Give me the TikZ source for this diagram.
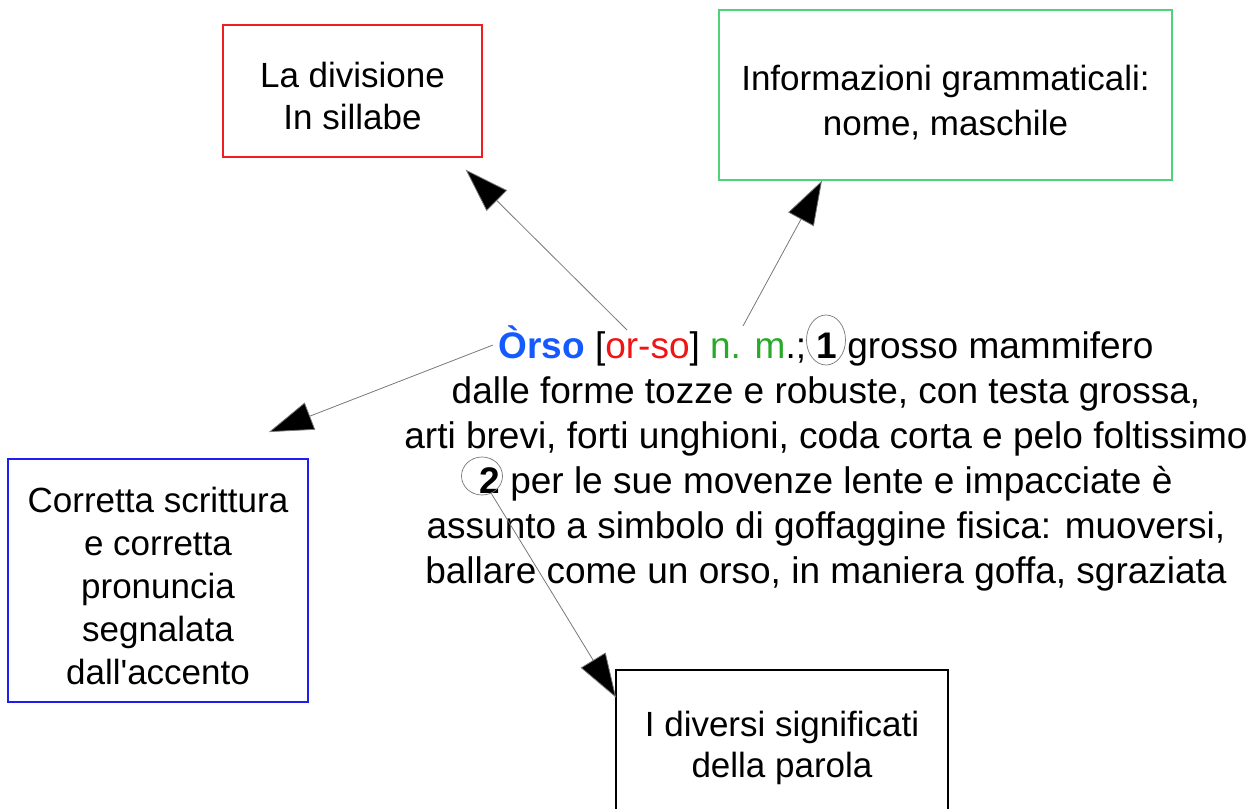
\documentclass[tikz,border=0pt]{standalone}
\usepackage{fontspec}
\setmainfont{Liberation Sans}
\usetikzlibrary{arrows.meta,shapes.geometric,calc}
\definecolor{boxred}{RGB}{240,30,30}
\definecolor{boxgreen}{RGB}{80,210,120}
\definecolor{boxblue}{RGB}{30,30,240}
\definecolor{orsoblue}{RGB}{20,90,255}
\definecolor{orsored}{RGB}{240,20,20}
\definecolor{orsogreen}{RGB}{40,170,40}
\definecolor{linegray}{RGB}{120,120,120}
\tikzset{
  infobox/.style={draw, line width=1.3pt, inner sep=0pt},
  boxtext/.style={align=center, inner sep=0pt, font=\fontsize{35}{#1}\selectfont},
  boxtext/.default=43,
  maintext/.style={align=center, inner sep=0pt, font=\fontsize{37}{45}\selectfont},
  numring/.style={draw=linegray, line width=0.7pt, ellipse, inner sep=0pt},
  pointer/.style={draw=linegray, line width=0.8pt, -{Triangle[length=44pt,width=29pt,fill=black]}},
}
\begin{document}
\begin{tikzpicture}[x=1pt,y=-1pt]
\useasboundingbox (0,0) rectangle (1260,808);
% boxes
\node[infobox, draw=boxred, minimum width=259pt, minimum height=132pt] (sill) at (352.5,91) {};
\node[boxtext=42] (sillText) at ($(sill.center)+(0,5)$) {La divisione\\In sillabe};
\node[infobox, draw=boxgreen, minimum width=453pt, minimum height=170pt] (gram) at (945.5,95) {};
\node[boxtext=45] (gramText) at ($(gram.center)+(0,8)$) {Informazioni grammaticali:\\nome, maschile};
\node[infobox, draw=boxblue, minimum width=300pt, minimum height=243pt] (accent) at (158,580.5) {};
\node[boxtext=43] (accentText) at ($(accent.center)+(0,5)$)
  {Corretta scrittura\\e corretta\\pronuncia\\segnalata\\dall\textquotesingle accento};
\node[infobox, draw=black, minimum width=332pt, minimum height=160pt] (sign) at (782,750) {};
\node[boxtext=41] (signText) at ($(sign.center)+(0,-2)$) {I diversi significati\\della parola};
% main entry text
\node[maintext, anchor=base] (entry) at (826,583)
  {{\bfseries\color{orsoblue}Òrso} [{\color{orsored}or-so}] {\color{orsogreen}n. m}.; {\bfseries 1} grosso mammifero\\
   dalle forme tozze e robuste, con testa grossa,\\
   arti brevi, forti unghioni, coda corta e pelo foltissimo\\
   {\bfseries 2} per le sue movenze lente e impacciate è\\
   assunto a simbolo di goffaggine fisica: muoversi,\\
   ballare come un orso, in maniera goffa, sgraziata};
% rings around the numbers
\node[numring, minimum width=39pt, minimum height=50pt] (ring1) at (826,340) {};
\node[numring, minimum width=41pt, minimum height=38pt] (ring2) at (482,476) {};
% start points of the pointers
\coordinate (fromSill) at (627,330);
\coordinate (fromGram) at (743,326);
\coordinate (fromAccent) at (493,345);
% tips
\coordinate (toSill) at ($(sill.south east)+(-17,12)$);
\coordinate (toGram) at ($(gram.south west)+(103.6,0)$);
\coordinate (toAccent) at ($(accent.north east)+(-39.7,-26.3)$);
\coordinate (toSign) at ($(sign.north west)+(0.7,28.3)$);
% pointers
\draw[pointer] (fromSill) -- (toSill);
\draw[pointer] (fromGram) -- (toGram);
\draw[pointer] (fromAccent) -- (toAccent);
\draw[pointer] (ring2.-62) -- (toSign);
\end{tikzpicture}
\end{document}
